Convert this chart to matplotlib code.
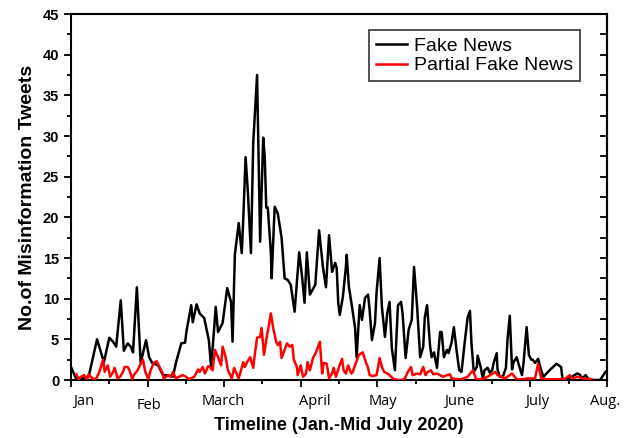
import numpy as np
import matplotlib
matplotlib.use("Agg")
import matplotlib.pyplot as plt
from matplotlib.ticker import MultipleLocator
import matplotlib.transforms as mtransforms

# ---- data (time in months since Jan 1, 2020) ----
fake_t = [0.00, 0.07, 0.23, 0.34, 0.43, 0.50, 0.55, 0.59, 0.65, 0.69, 0.74, 0.78, 0.81, 0.86, 0.91, 0.98,
          1.02, 1.06, 1.14, 1.20, 1.24, 1.33, 1.37, 1.44, 1.49, 1.51, 1.57, 1.59, 1.64, 1.68, 1.74, 1.80,
          1.83, 1.87, 1.89, 1.92, 1.98, 2.04, 2.09, 2.11, 2.14, 2.17, 2.19, 2.23, 2.25, 2.28, 2.31, 2.35,
          2.38, 2.43, 2.47, 2.51, 2.53, 2.55, 2.57, 2.61, 2.62, 2.66, 2.70, 2.75, 2.79, 2.83, 2.87, 2.92,
          2.98, 3.02, 3.05, 3.08, 3.12, 3.19, 3.24, 3.29, 3.33, 3.37, 3.41, 3.45, 3.47, 3.49, 3.51, 3.55,
          3.59, 3.60, 3.63, 3.67, 3.71, 3.73, 3.77, 3.80, 3.84, 3.88, 3.90, 3.93, 3.97, 3.99, 4.03, 4.06,
          4.10, 4.13, 4.16, 4.19, 4.23, 4.27, 4.31, 4.33, 4.37, 4.41, 4.45, 4.48, 4.52, 4.56, 4.60, 4.62,
          4.65, 4.69, 4.71, 4.74, 4.78, 4.82, 4.84, 4.87, 4.91, 4.93, 4.97, 5.00, 5.04, 5.07, 5.10, 5.14,
          5.18, 5.21, 5.23, 5.26, 5.30, 5.31, 5.35, 5.38, 5.40, 5.44, 5.47, 5.50, 5.52, 5.56, 5.57, 5.60,
          5.64, 5.68, 5.70, 5.73, 5.76, 5.78, 5.82, 5.85, 5.89, 5.91, 5.95, 5.98, 6.01, 6.03, 6.06, 6.10,
          6.14, 6.17, 6.25, 6.34, 6.40, 6.42, 6.49, 6.54, 6.61, 6.64, 6.68, 6.72, 6.75, 6.80, 6.91, 6.98]
fake_n = [1.6, 0.1, 0.4, 5.0, 2.2, 5.2, 4.7, 4.1, 9.8, 3.6, 4.5, 4.1, 3.4, 11.4, 2.1, 4.9,
          2.8, 2.1, 1.8, 0.6, 0.6, 0.4, 2.1, 4.5, 4.6, 6.1, 9.2, 7.1, 9.3, 8.2, 7.6, 4.9,
          1.6, 6.4, 9.0, 5.9, 7.0, 11.3, 9.6, 4.7, 15.4, 17.8, 19.3, 15.6, 19.9, 27.4, 23.1, 15.6,
          29.2, 37.5, 17.0, 29.8, 27.4, 21.2, 21.2, 15.7, 12.5, 21.3, 20.5, 17.5, 12.5, 12.3, 11.7, 8.4,
          15.7, 12.5, 9.5, 15.7, 10.5, 11.7, 18.4, 13.9, 11.4, 17.8, 13.3, 14.4, 13.8, 9.5, 8.0, 10.2,
          13.9, 15.4, 11.4, 9.0, 6.4, 2.8, 9.2, 7.4, 10.1, 10.5, 8.6, 4.9, 7.0, 10.7, 15.0, 9.0,
          5.3, 8.2, 9.6, 3.9, 1.2, 9.2, 9.6, 8.2, 2.7, 6.2, 7.4, 13.9, 9.0, 2.8, 4.1, 7.7,
          9.2, 4.1, 2.8, 3.4, 1.5, 5.9, 5.9, 2.8, 3.7, 3.3, 4.6, 6.5, 3.3, 1.2, 1.0, 4.5,
          7.7, 8.5, 4.5, 1.0, 1.6, 3.0, 1.6, 0.1, 1.2, 1.5, 0.9, 1.2, 2.1, 3.3, 1.3, 0.4,
          0.4, 1.5, 4.9, 7.9, 1.3, 2.2, 2.8, 1.8, 0.6, 2.1, 6.5, 3.1, 2.5, 2.5, 2.1, 2.6,
          1.2, 0.4, 1.2, 2.0, 1.6, 0.1, 0.2, 0.4, 0.8, 0.7, 0.2, 0.6, 0.2, 0.0, 0.0, 1.0]

partial_t = [0.07, 0.10, 0.13, 0.17, 0.21, 0.23, 0.29, 0.33, 0.37, 0.42, 0.44, 0.48, 0.51, 0.55, 0.57, 0.61,
             0.64, 0.68, 0.70, 0.74, 0.76, 0.80, 0.82, 0.87, 0.90, 0.94, 0.97, 1.01, 1.04, 1.08, 1.12, 1.15,
             1.19, 1.21, 1.27, 1.31, 1.33, 1.37, 1.41, 1.46, 1.50, 1.54, 1.61, 1.66, 1.68, 1.72, 1.75, 1.79,
             1.81, 1.85, 1.88, 1.92, 1.96, 1.98, 2.02, 2.05, 2.10, 2.13, 2.17, 2.19, 2.25, 2.27, 2.30, 2.34,
             2.38, 2.40, 2.43, 2.47, 2.49, 2.52, 2.56, 2.58, 2.61, 2.64, 2.68, 2.70, 2.73, 2.75, 2.79, 2.82,
             2.86, 2.89, 2.91, 2.95, 2.96, 3.00, 3.03, 3.07, 3.09, 3.12, 3.16, 3.20, 3.25, 3.28, 3.30, 3.34,
             3.37, 3.41, 3.43, 3.46, 3.50, 3.54, 3.56, 3.59, 3.62, 3.66, 3.68, 3.72, 3.76, 3.81, 3.85, 3.88,
             3.90, 3.94, 3.99, 4.01, 4.03, 4.06, 4.09, 4.13, 4.16, 4.20, 4.26, 4.32, 4.36, 4.40, 4.44, 4.46,
             4.52, 4.56, 4.60, 4.63, 4.66, 4.70, 4.73, 4.78, 4.82, 4.86, 4.91, 4.95, 4.97, 5.04, 5.10, 5.18,
             5.25, 5.29, 5.37, 5.44, 5.54, 5.57, 5.67, 5.73, 5.76, 5.82, 5.89, 5.97, 6.06, 6.10, 6.14, 6.21,
             6.32, 6.45, 6.51, 6.55, 6.62, 6.68, 6.75, 6.80]
partial_n = [0.7, 0.1, 0.4, 0.6, 0.1, 0.7, 0.1, 0.2, 1.0, 2.5, 1.0, 1.8, 0.4, 1.0, 1.5, 0.2,
             0.4, 1.0, 1.6, 1.6, 1.3, 0.1, 0.6, 1.2, 1.8, 2.5, 1.0, 0.1, 1.2, 2.1, 2.3, 1.7,
             1.0, 0.2, 0.6, 0.4, 1.0, 0.2, 0.4, 0.6, 0.4, 0.1, 0.4, 1.3, 1.0, 1.6, 0.8, 1.7,
             1.6, 1.2, 3.7, 2.8, 1.8, 4.1, 2.8, 1.2, 0.2, 1.5, 0.6, 0.2, 2.2, 1.6, 2.2, 2.8,
             1.5, 3.1, 5.2, 5.3, 6.4, 3.1, 5.5, 6.5, 8.2, 6.4, 4.7, 4.3, 4.7, 2.7, 3.7, 4.5,
             4.1, 4.3, 2.5, 1.6, 0.6, 1.8, 0.4, 0.8, 2.2, 1.2, 2.7, 3.4, 4.7, 0.8, 2.1, 2.0,
             0.2, 0.8, 1.5, 0.4, 1.6, 2.6, 1.2, 0.8, 1.8, 0.8, 1.0, 2.1, 3.1, 3.4, 2.2, 1.5,
             0.6, 0.5, 0.6, 1.6, 2.7, 1.6, 1.0, 0.8, 0.6, 0.2, 0.0, 0.0, 0.2, 1.0, 1.6, 0.6,
             0.8, 0.7, 1.6, 0.6, 1.0, 1.2, 0.7, 0.8, 0.6, 0.4, 0.6, 0.7, 0.2, 0.1, 0.1, 0.4,
             1.2, 0.1, 0.1, 0.4, 1.0, 0.6, 0.2, 0.6, 0.8, 0.1, 0.1, 0.2, 0.2, 2.0, 0.2, 0.1,
             0.1, 0.1, 0.6, 0.2, 0.4, 0.2, 0.1, 0.1]

month_labels = ["Jan", "Feb", "March", "April", "May", "June", "July", "Aug."]
series_names = ["Fake News", "Partial Fake News"]

# ---- figure ----
plt.rcParams['font.family'] = ['Liberation Sans', 'DejaVu Sans']
fig = plt.figure(figsize=(6.3, 4.38), dpi=100)
ax = fig.add_axes([0.1127, 0.1324, 0.8508, 0.8356])

ax.plot(fake_t, fake_n, color='black', lw=1.8, label=series_names[0], zorder=3)
ax.plot(partial_t, partial_n, color='#ff0000', lw=1.8, label=series_names[1], zorder=4)

ax.set_xlim(0, 7)
ax.set_ylim(0, 45)

ax.set_xticks(np.arange(len(month_labels)))
ax.set_xticklabels(month_labels, fontsize=10.5, fontfamily='Open Sans')
ax.xaxis.set_minor_locator(MultipleLocator(0.5))
ax.yaxis.set_major_locator(MultipleLocator(5))
ax.yaxis.set_minor_locator(MultipleLocator(2.5))
for lab in ax.get_yticklabels():
    lab.set_fontweight('bold')
    lab.set_fontsize(10.5)

ax.tick_params(axis='both', which='major', direction='out', length=5, width=1.3)
ax.tick_params(axis='both', which='minor', direction='out', length=3, width=1.3)
ax.tick_params(axis='x', which='major', pad=5)

# per-label offsets (points) to mimic original label placement
offsets = [(9, 0), (1, -3), (-1, 0), (10, 0), (4, 0), (4, 0), (5, 0), (-1, 0)]
for lab, (dx, dy) in zip(ax.get_xticklabels(), offsets):
    lab.set_transform(lab.get_transform() + mtransforms.ScaledTranslation(dx / 72, dy / 72, fig.dpi_scale_trans))

# inner ticks on right spine
ax2 = ax.secondary_yaxis('right')
ax2.yaxis.set_major_locator(MultipleLocator(2.5))
ax2.tick_params(direction='in', length=5, width=1.3, labelright=False)
ax2.spines['right'].set_linewidth(1.5)

for s in ax.spines.values():
    s.set_linewidth(1.5)

ax.set_ylabel("No.of Misinformation Tweets", fontsize=14, fontweight='bold', labelpad=5)
ax.set_xlabel("Timeline (Jan.-Mid July 2020)", fontsize=13, fontweight='bold', labelpad=3)

leg = ax.legend(loc='upper right', bbox_to_anchor=(0.9496, 0.956), fontsize=14, frameon=True,
                fancybox=False, edgecolor='black', handlelength=1.6, borderpad=0.35, labelspacing=0.12,
                handletextpad=0.35, borderaxespad=0)
leg.get_frame().set_linewidth(1.2)

fig.savefig("out.png", dpi=100)
